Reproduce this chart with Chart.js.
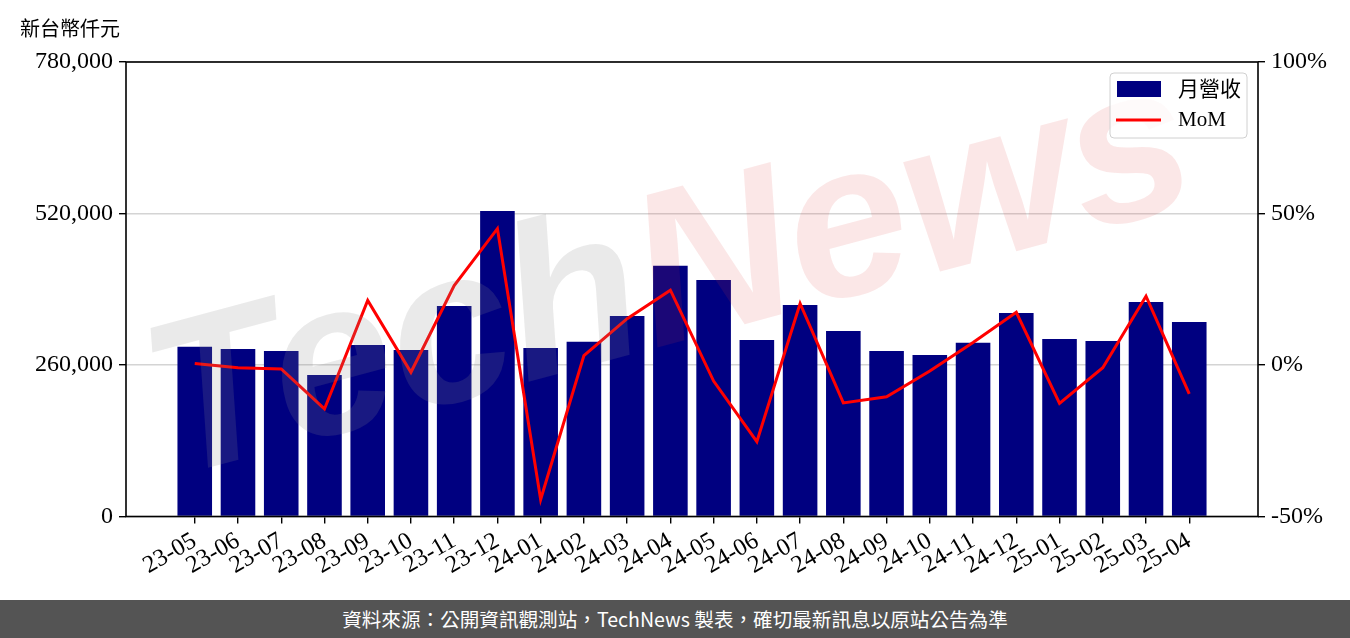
<!DOCTYPE html>
<html>
<head>
<meta charset="utf-8">
<script src="https://cdn.jsdelivr.net/npm/chart.js@4.4.1/dist/chart.umd.min.js"></script>
<style>
body { margin: 0; background: #fff; width: 1350px; height: 638px; overflow: hidden; }
#wrap { position: relative; width: 1350px; height: 600px; }
#unit { position: absolute; left: 20px; top: 13px; font: 20px 'Noto Sans CJK TC', sans-serif; color: #000; }
#footer { height: 38px; background: #545454; color: #fff; font: 19.6px 'Noto Sans CJK TC', sans-serif; text-align: center; line-height: 38px; }
</style>
</head>
<body>
<div id="wrap">
  <canvas id="revenueChart" width="1350" height="600"></canvas>
  <div id="unit">新台幣仟元</div>
</div>
<div id="footer">資料來源：公開資訊觀測站，TechNews 製表，確切最新訊息以原站公告為準</div>
<script>
// 月份
const months = ["23-05", "23-06", "23-07", "23-08", "23-09", "23-10", "23-11", "23-12",
    "24-01", "24-02", "24-03", "24-04", "24-05", "24-06", "24-07", "24-08",
    "24-09", "24-10", "24-11", "24-12", "25-01", "25-02", "25-03", "25-04"];

// 月營收 (新台幣仟元)
const revenue = [291400, 287500, 284000, 242800, 294300, 285700, 361300, 524300,
    289200, 300000, 344100, 430400, 405900, 302900, 363000, 318400,
    284000, 277200, 298300, 349200, 304600, 301200, 368100, 333800];

// MoM (%)
const mom = [0.5, -0.9, -1.3, -14.5, 21.3, -2.4, 26.2, 45.0,
    -44.4, 3.1, 15.3, 24.7, -5.3, -25.3, 20.3, -12.5,
    -10.5, -2.0, 7.4, 17.4, -12.7, -0.9, 22.7, -9.5];

const leftTicks = [0, 260000, 520000, 780000];
const rightTicks = [-50, 0, 50, 100];

const serif = "'Liberation Serif', 'Noto Sans CJK TC', serif";
Chart.defaults.color = "#000";

// 워터마크
const watermark = {
    id: "watermark",
    afterDatasetsDraw(chart) {
        const { ctx, chartArea } = chart;
        ctx.save();
        ctx.beginPath();
        ctx.rect(chartArea.left, chartArea.top, chartArea.width, chartArea.height);
        ctx.clip();
        ctx.translate(170, 478);
        ctx.rotate(-15 * Math.PI / 180);
        ctx.font = "bold italic 218px 'Liberation Sans', sans-serif";
        ctx.textBaseline = "alphabetic";
        ctx.fillStyle = "rgba(140, 140, 140, 0.18)";
        ctx.fillText("Tech", 0, 0);
        const w = ctx.measureText("Tech").width;
        ctx.fillStyle = "rgba(220, 60, 60, 0.12)";
        ctx.fillText("News", w, 0);
        ctx.restore();
    }
};

// 테두리 + 범례
const frameAndLegend = {
    id: "frameAndLegend",
    afterDraw(chart) {
        const { ctx, chartArea } = chart;
        ctx.save();
        ctx.strokeStyle = "#000";
        ctx.lineWidth = 1.6;
        ctx.strokeRect(chartArea.left, chartArea.top, chartArea.width, chartArea.height);

        const bw = 137, bh = 65;
        const bx = chartArea.right - 11 - bw, by = chartArea.top + 11;
        ctx.beginPath();
        ctx.roundRect(bx, by, bw, bh, 4);
        ctx.fillStyle = "rgba(255, 255, 255, 0.8)";
        ctx.fill();
        ctx.strokeStyle = "#d0d0d0";
        ctx.lineWidth = 1;
        ctx.stroke();

        const ds = chart.data.datasets;
        ctx.fillStyle = ds[0].backgroundColor;
        ctx.fillRect(bx + 7, by + 8, 44, 16);
        ctx.strokeStyle = ds[1].borderColor;
        ctx.lineWidth = 3;
        ctx.beginPath();
        ctx.moveTo(bx + 6, by + 47);
        ctx.lineTo(bx + 51, by + 47);
        ctx.stroke();

        ctx.fillStyle = "#000";
        ctx.font = "21px " + serif;
        ctx.textBaseline = "middle";
        ctx.fillText(ds[0].label, bx + 68, by + 17);
        ctx.fillText(ds[1].label, bx + 68, by + 47);
        ctx.restore();
    }
};

const ctx = document.getElementById("revenueChart").getContext("2d");

new Chart(ctx, {
    type: "bar",
    data: {
        datasets: [{
            label: "月營收",
            data: revenue.map((v, i) => ({ x: i, y: v })),
            backgroundColor: "#000080",
            barPercentage: 0.8,
            categoryPercentage: 1.0,
            yAxisID: "y",
            order: 1
        }, {
            type: "line",
            label: "MoM",
            data: mom.map((v, i) => ({ x: i, y: v })),
            borderColor: "#ff0000",
            borderWidth: 3,
            pointRadius: 0,
            tension: 0,
            yAxisID: "y1",
            order: 0
        }]
    },
    options: {
        responsive: false,
        animation: false,
        layout: { padding: { top: 62, left: 0, right: 0, bottom: 0 } },
        plugins: {
            legend: { display: false },
            tooltip: { enabled: false }
        },
        scales: {
            x: {
                type: "linear",
                min: -1.59,
                max: 24.59,
                offset: false,
                afterBuildTicks: (scale) => { scale.ticks = months.map((m, i) => ({ value: i })); },
                afterFit: (scale) => { scale.height = 83.5; },
                ticks: {
                    autoSkip: false,
                    minRotation: 30,
                    maxRotation: 30,
                    padding: 3,
                    font: { family: serif, size: 24.5 },
                    callback: (v) => months[v]
                },
                grid: { offset: false, drawOnChartArea: false, tickColor: "#000", tickLength: 7, lineWidth: 1.4 },
                border: { display: false }
            },
            y: {
                position: "left",
                min: 0,
                max: 780000,
                afterBuildTicks: (scale) => { scale.ticks = leftTicks.map(v => ({ value: v })); },
                afterFit: (scale) => { scale.width = 126; },
                ticks: {
                    padding: 6,
                    font: { family: serif, size: 24 },
                    callback: (v) => v.toLocaleString("en-US")
                },
                grid: { color: "#d4d4d4", tickColor: "#000", tickLength: 7, lineWidth: 1.4 },
                border: { display: false }
            },
            y1: {
                position: "right",
                min: -50,
                max: 100,
                afterBuildTicks: (scale) => { scale.ticks = rightTicks.map(v => ({ value: v })); },
                afterFit: (scale) => { scale.width = 92; },
                ticks: {
                    padding: 6,
                    font: { family: serif, size: 24 },
                    callback: (v) => v + "%"
                },
                grid: { drawOnChartArea: false, tickColor: "#000", tickLength: 7, lineWidth: 1.4 },
                border: { display: false }
            }
        }
    },
    plugins: [watermark, frameAndLegend]
});
</script>
</body>
</html>
